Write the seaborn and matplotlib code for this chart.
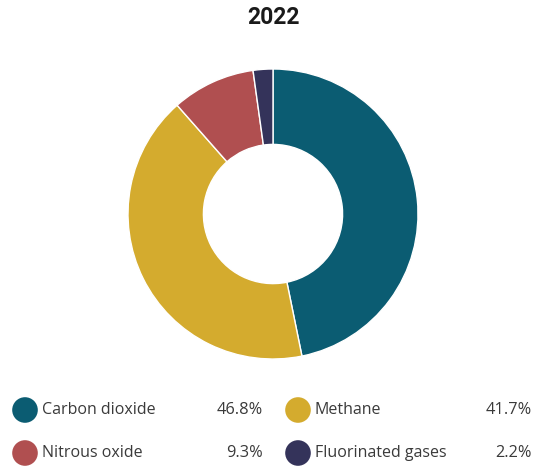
import matplotlib
matplotlib.use("Agg")
import matplotlib.pyplot as plt
import seaborn as sns

categories = ["Carbon dioxide", "Methane", "Nitrous oxide", "Fluorinated gases"]
values = [46.8, 41.7, 9.3, 2.2]
labels_pct = ["46.8%", "41.7%", "9.3%", "2.2%"]
colors = ["#0b5c72", "#d4ab2e", "#b04f50", "#34335a"]
title = "2022"

sns.set_theme(style="white")
plt.rcParams["font.family"] = ["Open Sans", "DejaVu Sans"]

W, H = 535, 466
fig = plt.figure(figsize=(W / 100, H / 100), dpi=100)

cx, cy, r = 273, 214, 145
ax = fig.add_axes([(cx - r) / W, (H - cy - r) / H, 2 * r / W, 2 * r / H])
ax.pie(values, colors=colors, startangle=90, counterclock=False, radius=1,
       wedgeprops=dict(width=0.52, edgecolor="white", linewidth=1))
ax.set_xlim(-1, 1)
ax.set_ylim(-1, 1)
ax.set_aspect("equal")
ax.axis("off")

fig.text(273 / W, 1 - 18 / H, title, ha="center", va="center",
         fontsize=16.5, fontweight="bold", color="#1a1a1a",
         family=["Roboto", "DejaVu Sans"])

ov = fig.add_axes([0, 0, 1, 1])
ov.set_xlim(0, W)
ov.set_ylim(H, 0)
ov.axis("off")
ov.patch.set_alpha(0)

cols = [(25, 42, 263), (298, 315, 532)]
rows = [410, 453]
for i, (cat, pct, col) in enumerate(zip(categories, labels_pct, colors)):
    rr, cc = divmod(i, 2)
    mx, tx, px = cols[cc]
    y = rows[rr]
    ov.scatter([mx], [y], s=340, color=col, edgecolors="none")
    ov.text(tx, y, cat, ha="left", va="center", fontsize=11.5, color="#3a3a3a")
    ov.text(px, y, pct, ha="right", va="center", fontsize=11.8, color="#3a3a3a")

fig.savefig("out.png", dpi=100)
